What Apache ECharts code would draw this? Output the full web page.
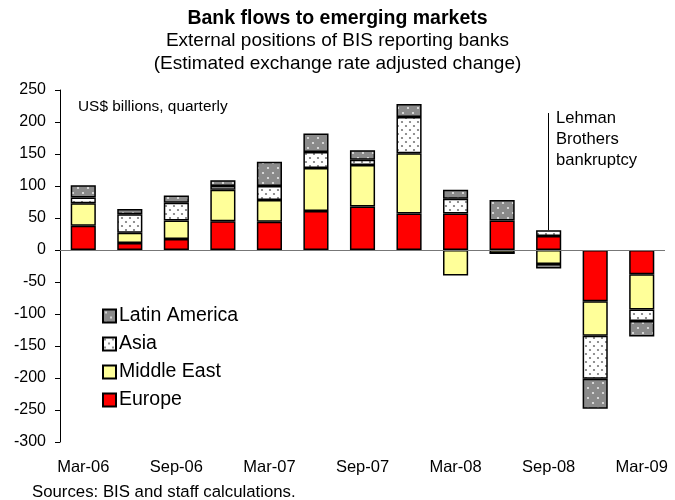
<!DOCTYPE html>
<html>
<head>
<meta charset="utf-8">
<script src="https://cdn.jsdelivr.net/npm/echarts@6/dist/echarts.min.js"></script>
<style>
  html, body { margin: 0; padding: 0; background: #fff; }
  #chart { width: 675px; height: 500px; }
</style>
</head>
<body>
<div id="chart"></div>
<script>
// Quarterly change in external positions, US$ billions
const quarters = ['Mar-06','Jun-06','Sep-06','Dec-06','Mar-07','Jun-07','Sep-07','Dec-07','Mar-08','Jun-08','Sep-08','Dec-08','Mar-09'];
const europe     = [38, 11, 17, 45, 44, 61, 68, 57, 57, 46, 22, -80, -38];
const middleEast = [35, 16, 29, 49, 34, 67, 65, 94, -40, -5, -22, -54, -55];
const asia       = [9, 29, 28, 6, 22, 25, 8, 57, 23, 0, 9, -67, -18];
const latAm      = [19, 8, 11, 9, 38, 29, 15, 20, 14, 32, -7, -47, -24];
const yTicks = [-300, -250, -200, -150, -100, -50, 0, 50, 100, 150, 200, 250];

const FONT = 'Liberation Sans, Arial, sans-serif';

// Dotted fill textures
function dotPattern(bg, dot, size, dots) {
  const c = document.createElement('canvas');
  c.width = size; c.height = size;
  const g = c.getContext('2d');
  g.fillStyle = bg; g.fillRect(0, 0, size, size);
  g.fillStyle = dot;
  dots.forEach(([x, y]) => { g.beginPath(); g.arc(x, y, 1.1, 0, Math.PI * 2); g.fill(); });
  return { image: c, repeat: 'repeat' };
}
const asiaFill = dotPattern('#ffffff', '#777777', 8, [[2, 2], [6, 6]]);
const latAmFill = dotPattern('#8a8a8a', '#e8e8e8', 10, [[3, 3], [8, 8]]);

const border = { borderColor: '#000', borderWidth: 1.5 };

function barSeries(name, data, color) {
  return {
    name, type: 'bar', stack: 'flows', data,
    barWidth: '54%',
    itemStyle: Object.assign({ color }, border)
  };
}

const series = [
  barSeries('Europe', europe, '#ff0000'),
  barSeries('Middle East', middleEast, '#ffff99'),
  barSeries('Asia', asia, asiaFill),
  barSeries('Latin America', latAm, latAmFill)
];

// zero line and the Lehman marker
series[0].markLine = {
  silent: true, symbol: 'none', animation: false,
  label: { show: false },
  data: [
    [{ xAxis: 0, yAxis: 0, x: 60 }, { x: 665, yAxis: 0 }],
  ],
  lineStyle: { color: '#777', width: 1.2, type: 'solid' }
};
series[3].markLine = {
  silent: true, symbol: 'none', animation: false,
  label: { show: false },
  data: [
    [{ coord: ['Sep-08', 31] }, { coord: ['Sep-08', 214] }]
  ],
  lineStyle: { color: '#000', width: 1, type: 'solid' }
};

const chart = echarts.init(document.getElementById('chart'), null, { renderer: 'canvas' });
chart.setOption({
  animation: false,
  backgroundColor: '#fff',
  textStyle: { fontFamily: FONT },
  title: [
    { text: 'Bank flows to emerging markets', left: 'center', top: 4,
      textStyle: { fontFamily: FONT, fontSize: 19.5, fontWeight: 'bold', color: '#000' } },
    { text: 'External positions of BIS reporting banks\n(Estimated exchange rate adjusted change)',
      left: 'center', top: 24,
      textStyle: { fontFamily: FONT, fontSize: 19, fontWeight: 'normal', color: '#000', lineHeight: 23.5 } }
  ],
  grid: { left: 60, right: 10, top: 90, bottom: 58 },
  legend: {
    orient: 'vertical', left: 97, top: 301,
    data: ['Latin America', 'Asia', 'Middle East', 'Europe'],
    itemWidth: 13, itemHeight: 13, itemGap: 8,
    icon: 'rect',
    textStyle: { fontFamily: FONT, fontSize: 19.5, lineHeight: 20, color: '#000', padding: [0, 0, 0, -2] }
  },
  xAxis: {
    type: 'category', data: quarters,
    axisLine: { show: false, onZero: false },
    axisTick: { show: false },
    axisLabel: { interval: 1, fontFamily: FONT, fontSize: 16.5, color: '#000', margin: 17 }
  },
  yAxis: {
    type: 'value', min: yTicks[0], max: yTicks[yTicks.length - 1], interval: 50,
    axisLine: { show: true, lineStyle: { color: '#000', width: 1 } },
    axisTick: { show: true, length: 5, lineStyle: { color: '#000' } },
    splitLine: { show: false },
    axisLabel: { fontFamily: FONT, fontSize: 16, color: '#000', margin: 14 }
  },
  graphic: [
    { type: 'text', left: 78, top: 99,
      style: { text: 'US$ billions, quarterly', font: '15.4px ' + FONT, fill: '#000' } },
    { type: 'text', left: 556, top: 108,
      style: { text: 'Lehman\nBrothers\nbankruptcy', font: '16.6px ' + FONT, lineHeight: 21, fill: '#000' } },
    { type: 'text', left: 32, top: 484,
      style: { text: 'Sources: BIS and staff calculations.', font: '16.8px ' + FONT, fill: '#000' } }
  ],
  series
});
</script>
</body>
</html>
